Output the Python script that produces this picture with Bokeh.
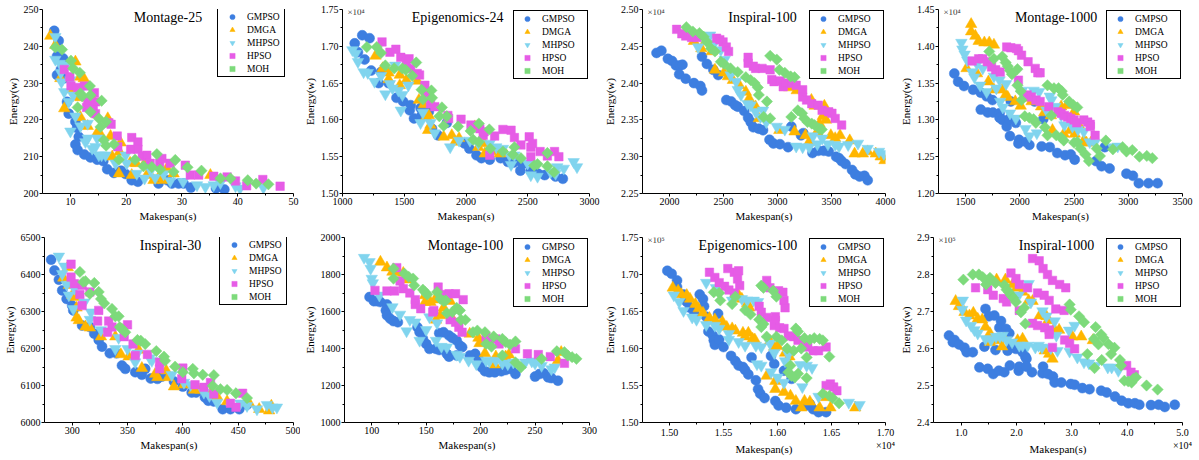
import math
from bokeh.plotting import figure
from bokeh.layouts import column, row
from bokeh.models import Range1d, FixedTicker, PrintfTickFormatter, Label
from bokeh.embed import file_html
from bokeh.resources import INLINE

FONT = "Liberation Serif"
SERIES = ["GMPSO", "DMGA", "MHPSO", "HPSO", "MOH"]
COLORS = ["#3D7EE0", "#FFB600", "#80D4EE", "#E65CE6", "#7DDA7B"]
MARKERS = ["circle", "triangle", "inverted_triangle", "square", "square"]
SIZES = [10, 11.5, 11.5, 8.5, 8]
ANGLES = [0, 0, 0, 0, math.pi / 4]

# ---------------- Montage-25 ----------------
M25_GMPSO = [(7.1,244.2),(7.9,241.5),(7.6,237.3),(7.6,232.2),(8.3,233.7),(8.7,236.7),(8.9,231.3),(9.4,224.9),(9.7,221.7),(10.9,219.5),(11.2,217.8),(11.5,215.4),(10.9,213.3),(11.3,211.8),(12.5,210.6),(13.6,209.8),(14.8,209.2),(15.9,208.8),(16.6,206.6),(17.8,205.6),(19.1,206.2),(19.9,205.3),(21.0,203.6),(22.1,203.2),(25.8,202.7),(27.4,203.6),(28.2,202.7),(29.4,202.7),(30.3,202.7),(31.6,201.6),(36.1,201.4),(37.6,201.1)]
M25_DMGA = [(6.4,242.8),(7.3,240.3),(8.2,231.3),(8.9,223.1),(10.1,228.3),(10.9,226.3),(10.9,235.8),(11.7,231.7),(12.4,231.3),(11.8,226.1),(11.8,220.7),(13.1,218.3),(14.3,224.9),(14.8,216.5),(15.4,216.0),(16.7,220.4),(17.2,215.6),(17.5,210.0),(18.8,211.3),(19.0,213.8),(18.7,205.4),(20.7,208.3),(21.8,208.2),(21.0,205.0),(23.3,208.2),(23.7,205.0),(24.9,203.6),(25.8,204.3),(26.7,203.6),(27.3,206.8),(28.5,205.4),(35.1,205.0)]
M25_MHPSO = [(7.3,242.6),(7.3,236.4),(8.1,235.3),(8.3,232.8),(8.4,230.3),(9.4,234.9),(8.9,227.6),(10.0,230.8),(10.5,226.7),(9.7,224.9),(10.0,216.9),(10.9,221.0),(11.8,228.0),(11.8,218.3),(12.7,214.0),(13.1,219.0),(13.1,215.0),(13.9,212.2),(14.5,212.7),(14.8,215.0),(15.1,210.4),(15.6,210.4),(16.3,210.4),(18.1,208.2),(19.9,210.4),(20.1,208.2),(21.9,205.4),(23.3,204.1),(24.4,206.2),(25.2,204.3),(26.7,205.3),(27.9,203.4),(30.2,203.2),(32.7,202.3),(34.2,201.8),(35.7,202.3),(36.9,202.9),(39.6,202.0),(40.4,201.4),(44.6,201.6)]
M25_HPSO = [(8.9,233.7),(9.9,231.7),(10.1,229.3),(11.3,228.8),(12.5,229.2),(13.1,225.4),(12.9,223.4),(14.1,223.1),(14.3,227.4),(14.5,224.9),(14.5,221.7),(16.9,219.2),(17.3,218.8),(18.4,215.6),(18.5,212.7),(21.0,215.2),(22.1,214.0),(20.8,212.0),(22.1,212.0),(22.9,210.1),(23.7,210.4),(24.3,208.2),(26.0,208.2),(26.4,209.5),(27.9,208.2),(30.6,207.7),(31.5,205.0),(33.0,205.0),(35.7,204.7),(38.1,204.5),(39.6,203.4),(41.6,202.1),(44.5,203.8),(47.6,202.0)]
M25_MOH = [(7.3,239.7),(8.5,239.1),(10.1,236.1),(10.5,234.0),(11.7,232.8),(11.3,223.4),(11.8,227.2),(12.1,226.4),(13.5,229.2),(13.6,226.7),(13.6,222.2),(15.1,220.4),(15.4,218.1),(15.6,225.2),(16.0,214.5),(16.4,219.5),(16.4,213.0),(17.8,213.4),(18.7,209.2),(21.6,209.2),(23.1,207.4),(24.6,207.2),(25.5,210.7),(26.1,206.5),(28.5,205.9),(28.8,209.1),(31.0,207.1),(33.5,206.2),(36.9,204.1),(38.7,204.1),(41.8,203.6),(43.3,202.7),(45.5,202.5)]
M25_XTICKS = [10, 20, 30, 40, 50]
M25_YTICKS = [200, 210, 220, 230, 240, 250]

# ---------------- Epigenomics-24 (energy x10^4) ----------------
E24_GMPSO = [(1099,1.704),(1125,1.692),(1160,1.715),(1179,1.682),(1219,1.711),(1232,1.667),(1293,1.650),(1312,1.665),(1373,1.650),(1437,1.630),(1491,1.625),(1544,1.613),(1552,1.620),(1579,1.602),(1632,1.616),(1640,1.606),(1699,1.611),(1725,1.588),(1773,1.579),(1845,1.596),(1987,1.568),(2027,1.561),(2085,1.552),(2125,1.548),(2192,1.546),(2280,1.548),(2339,1.543),(2387,1.542),(2440,1.531),(2459,1.540),(2525,1.531),(2584,1.527),(2637,1.525),(2725,1.523),(2784,1.520)]
E24_DMGA = [(1267,1.687),(1325,1.670),(1373,1.664),(1373,1.655),(1464,1.661),(1464,1.647),(1517,1.654),(1605,1.653),(1619,1.627),(1659,1.621),(1677,1.604),(1699,1.606),(1693,1.586),(1712,1.593),(1819,1.577),(1885,1.579),(1912,1.570),(1944,1.575),(2072,1.591),(2099,1.563),(2147,1.568),(2152,1.554),(2232,1.557),(2272,1.554),(2317,1.555)]
E24_MHPSO = [(1080,1.695),(1107,1.690),(1125,1.679),(1171,1.665),(1205,1.664),(1259,1.652),(1312,1.660),(1347,1.635),(1384,1.649),(1405,1.643),(1427,1.674),(1453,1.640),(1485,1.634),(1472,1.613),(1533,1.647),(1632,1.596),(1651,1.610),(1712,1.596),(1747,1.582),(1872,1.563),(1944,1.572),(2032,1.572),(2099,1.568),(2192,1.568),(2245,1.563),(2299,1.561),(2352,1.552),(2365,1.539),(2392,1.552),(2499,1.541),(2525,1.525),(2579,1.523),(2685,1.529),(2725,1.527),(2739,1.536),(2792,1.534),(2872,1.543),(2899,1.536)]
E24_HPSO = [(1320,1.706),(1384,1.692),(1432,1.696),(1472,1.685),(1517,1.679),(1539,1.683),(1552,1.670),(1605,1.663),(1624,1.661),(1667,1.647),(1677,1.637),(1712,1.622),(1747,1.618),(1853,1.606),(1859,1.602),(1960,1.601),(2040,1.593),(2112,1.588),(2139,1.579),(2147,1.584),(2192,1.552),(2232,1.578),(2299,1.587),(2365,1.586),(2392,1.576),(2445,1.566),(2512,1.577),(2525,1.563),(2539,1.568),(2525,1.550),(2600,1.557),(2659,1.551),(2717,1.557),(2752,1.550)]
E24_MOH = [(1197,1.699),(1277,1.699),(1312,1.691),(1347,1.674),(1419,1.670),(1485,1.670),(1512,1.668),(1565,1.660),(1597,1.678),(1640,1.641),(1651,1.628),(1720,1.640),(1725,1.630),(1805,1.617),(1784,1.605),(1845,1.605),(1819,1.592),(1936,1.591),(2037,1.585),(2059,1.573),(2104,1.595),(2104,1.570),(2189,1.587),(2197,1.561),(2299,1.557),(2392,1.563),(2379,1.553),(2445,1.548),(2552,1.538),(2579,1.540),(2659,1.555),(2659,1.537),(2712,1.529)]
E24_XTICKS = [1000, 1500, 2000, 2500, 3000]
E24_YTICKS = [1.50, 1.55, 1.60, 1.65, 1.70, 1.75]

# ---------------- Inspiral-100 (energy x10^4) ----------------
I100_GMPSO = [(1880,2.441),(1925,2.444),(1985,2.433),(2024,2.430),(2060,2.424),(2096,2.424),(2120,2.425),(2090,2.412),(2150,2.406),(2226,2.400),(2286,2.396),(2301,2.390),(2301,2.436),(2346,2.426),(2406,2.418),(2451,2.411),(2526,2.377),(2571,2.375),(2608,2.370),(2632,2.368),(2692,2.362),(2728,2.353),(2752,2.347),(2776,2.340),(2827,2.338),(2866,2.336),(2926,2.323),(2962,2.318),(3023,2.317),(3098,2.313),(3128,2.341),(3218,2.329),(3239,2.332),(3324,2.305),(3378,2.308),(3429,2.308),(3474,2.307),(3543,2.300),(3570,2.298),(3594,2.294),(3630,2.290),(3690,2.282),(3720,2.276),(3760,2.273),(3805,2.274),(3835,2.268)]
I100_DMGA = [(2226,2.457),(2295,2.447),(2391,2.443),(2421,2.418),(2505,2.414),(2541,2.409),(2587,2.404),(2647,2.397),(2707,2.388),(2737,2.379),(2797,2.368),(2827,2.352),(3017,2.336),(3107,2.394),(3158,2.334),(3178,2.390),(3259,2.329),(3293,2.320),(3314,2.377),(3344,2.369),(3368,2.334),(3389,2.345),(3419,2.355),(3434,2.369),(3449,2.350),(3494,2.329),(3534,2.325),(3579,2.329),(3669,2.322),(3714,2.304),(3790,2.304),(3835,2.307),(3910,2.304),(3955,2.300),(3991,2.295)]
I100_MHPSO = [(2265,2.449),(2376,2.465),(2415,2.454),(2475,2.445),(2511,2.432),(2565,2.411),(2617,2.402),(2632,2.391),(2662,2.384),(2722,2.372),(2752,2.370),(2797,2.361),(2842,2.354),(2866,2.363),(2896,2.347),(2993,2.341),(3068,2.337),(3173,2.314),(3233,2.313),(3293,2.313),(3329,2.328),(3369,2.317),(3414,2.325),(3467,2.317),(3534,2.316),(3570,2.314),(3654,2.316),(3745,2.318),(3835,2.311),(3940,2.307),(3985,2.304)]
I100_HPSO = [(2066,2.473),(2114,2.467),(2150,2.464),(2204,2.462),(2256,2.462),(2436,2.461),(2466,2.459),(2496,2.456),(2526,2.449),(2547,2.443),(2728,2.435),(2728,2.427),(2776,2.423),(2797,2.420),(2857,2.420),(2932,2.418),(2947,2.405),(2968,2.402),(3023,2.403),(3053,2.395),(3083,2.400),(3137,2.400),(3173,2.397),(3233,2.391),(3233,2.381),(3269,2.377),(3317,2.372),(3377,2.370),(3413,2.363),(3474,2.361),(3504,2.359),(3534,2.352),(3594,2.343)]
I100_MOH = [(2156,2.476),(2216,2.470),(2277,2.468),(2316,2.463),(2346,2.456),(2385,2.447),(2421,2.443),(2475,2.429),(2505,2.426),(2565,2.420),(2632,2.415),(2707,2.408),(2752,2.404),(2788,2.400),(2818,2.394),(2827,2.384),(2902,2.375),(2872,2.354),(2932,2.352),(2932,2.437),(2993,2.432),(3017,2.418),(3068,2.414),(3122,2.409),(3158,2.408),(3128,2.354),(3188,2.363),(3227,2.359),(3248,2.352),(3278,2.347),(3317,2.345),(3344,2.343),(3389,2.338),(3410,2.337)]
I100_XTICKS = [2000, 2500, 3000, 3500, 4000]
I100_YTICKS = [2.25, 2.30, 2.35, 2.40, 2.45, 2.50]

# ---------------- Montage-1000 (energy x10^4) ----------------
M1000_GMPSO = [(1396,1.363),(1431,1.352),(1485,1.346),(1569,1.341),(1640,1.337),(1694,1.332),(1748,1.327),(1640,1.314),(1704,1.310),(1752,1.310),(1813,1.309),(1813,1.303),(1839,1.300),(1879,1.291),(1899,1.301),(1917,1.325),(1963,1.296),(1909,1.278),(1993,1.273),(1987,1.268),(2058,1.270),(2088,1.266),(2136,1.325),(2216,1.301),(2201,1.264),(2276,1.263),(2345,1.255),(2417,1.252),(2470,1.253),(2506,1.246),(2703,1.244),(2754,1.237),(2828,1.234),(2784,1.263),(2983,1.227),(3043,1.224),(3097,1.214),(3186,1.214),(3270,1.214)]
M1000_DMGA = [(1551,1.430),(1551,1.420),(1590,1.414),(1620,1.407),(1673,1.405),(1718,1.405),(1761,1.402),(1509,1.370),(1605,1.363),(1710,1.352),(1761,1.341),(1838,1.341),(1869,1.334),(1889,1.331),(1958,1.325),(2008,1.319),(2048,1.330),(2108,1.325),(2196,1.318),(2225,1.310),(2286,1.306),(2301,1.286),(2381,1.318),(2405,1.281),(2434,1.320),(2464,1.286),(2500,1.311),(2506,1.281),(2545,1.293),(2590,1.272),(2614,1.269),(2655,1.269)]
M1000_MHPSO = [(1461,1.405),(1470,1.396),(1491,1.389),(1515,1.381),(1560,1.365),(1581,1.358),(1605,1.376),(1634,1.347),(1658,1.370),(1694,1.338),(1761,1.359),(1783,1.343),(1813,1.354),(1819,1.325),(1843,1.317),(1873,1.349),(1909,1.309),(1963,1.302),(2022,1.340),(2052,1.288),(2088,1.278),(2127,1.340),(2157,1.282),(2178,1.338),(2246,1.313),(2276,1.332),(2291,1.327),(2327,1.318),(2381,1.306),(2411,1.293),(2485,1.291),(2536,1.287),(2590,1.284),(2644,1.270),(2690,1.269),(2858,1.263),(2903,1.264)]
M1000_HPSO = [(1560,1.380),(1620,1.383),(1658,1.383),(1700,1.379),(1739,1.372),(1777,1.368),(1819,1.365),(1879,1.399),(1917,1.398),(1969,1.397),(1987,1.394),(2016,1.388),(1987,1.354),(2076,1.379),(2142,1.370),(2166,1.364),(2187,1.364),(2067,1.334),(2106,1.331),(2148,1.327),(2187,1.325),(2267,1.318),(2351,1.311),(2381,1.309),(2411,1.306),(2440,1.304),(2470,1.302),(2500,1.300),(2524,1.296),(2590,1.300),(2626,1.297),(2650,1.294),(2650,1.291),(2694,1.279)]
M1000_MOH = [(1718,1.393),(1761,1.383),(1838,1.386),(1869,1.378),(1889,1.373),(1909,1.367),(1927,1.362),(1978,1.369),(1978,1.347),(2008,1.339),(2016,1.327),(2046,1.305),(2088,1.303),(2127,1.301),(2148,1.296),(2231,1.290),(2255,1.279),(2291,1.306),(2255,1.347),(2315,1.343),(2357,1.343),(2387,1.339),(2396,1.334),(2336,1.279),(2381,1.276),(2405,1.272),(2455,1.325),(2494,1.320),(2530,1.317),(2500,1.269),(2530,1.270),(2560,1.261),(2605,1.253),(2637,1.244),(2709,1.261),(2739,1.251),(2793,1.272),(2858,1.260),(2948,1.263),(2983,1.257),(3037,1.259),(3103,1.250),(3171,1.251),(3222,1.248)]
M1000_XTICKS = [1500, 2000, 2500, 3000, 3500]
M1000_YTICKS = [1.20, 1.25, 1.30, 1.35, 1.40, 1.45]

# ---------------- Inspiral-30 ----------------
I30_GMPSO = [(281,6440),(284,6411),(288,6386),(291,6357),(295,6334),(300,6316),(301,6303),(309,6262),(316,6258),(320,6240),(324,6223),(327,6205),(334,6187),(340,6187),(345,6154),(348,6145),(357,6136),(363,6129),(366,6145),(371,6119),(377,6118),(381,6124),(392,6111),(400,6097),(408,6081),(412,6081),(420,6068),(423,6059),(428,6057),(436,6036),(443,6036),(451,6036),(458,6048)]
I30_DMGA = [(292,6391),(296,6419),(297,6371),(300,6344),(302,6339),(304,6310),(304,6283),(306,6276),(312,6259),(316,6256),(326,6232),(339,6232),(344,6184),(351,6178),(360,6196),(363,6147),(375,6131),(377,6122),(385,6140),(387,6122),(392,6097),(401,6102),(410,6088),(416,6088),(425,6080),(431,6070),(440,6057),(460,6052),(469,6036),(478,6032),(480,6045)]
I30_MHPSO = [(288,6449),(293,6422),(291,6402),(295,6373),(297,6344),(301,6307),(302,6362),(311,6325),(316,6278),(317,6298),(326,6250),(339,6199),(342,6229),(350,6199),(357,6163),(359,6187),(370,6174),(372,6167),(390,6129),(401,6108),(407,6102),(419,6081),(424,6072),(431,6054),(452,6052),(458,6045),(467,6036),(476,6048),(481,6041),(485,6041)]
I30_HPSO = [(299,6428),(299,6393),(302,6375),(307,6346),(309,6316),(309,6371),(316,6353),(324,6303),(323,6274),(333,6274),(336,6258),(332,6244),(350,6264),(347,6232),(355,6212),(357,6181),(368,6184),(379,6163),(379,6145),(400,6147),(399,6118),(411,6102),(419,6095),(425,6108),(428,6077),(443,6052),(448,6041),(454,6079)]
I30_MOH = [(307,6407),(310,6380),(312,6382),(316,6348),(320,6377),(324,6353),(326,6334),(329,6322),(336,6307),(339,6287),(342,6287),(343,6258),(345,6253),(348,6244),(359,6223),(362,6221),(366,6212),(376,6193),(383,6178),(384,6167),(393,6151),(400,6136),(409,6145),(410,6133),(418,6129),(428,6128),(427,6099),(434,6090),(440,6088),(448,6079),(458,6066)]
I30_XTICKS = [300, 350, 400, 450, 500]
I30_YTICKS = [6000, 6100, 6200, 6300, 6400, 6500]

# ---------------- Montage-100 ----------------
M100_GMPSO = [(98,1678),(102,1656),(105,1656),(108,1651),(114,1638),(113,1606),(114,1579),(117,1561),(120,1548),(124,1542),(142,1515),(144,1488),(147,1452),(150,1425),(153,1398),(159,1398),(162,1392),(162,1483),(166,1488),(171,1470),(174,1457),(178,1443),(181,1416),(183,1407),(169,1371),(171,1356),(178,1362),(190,1362),(195,1371),(198,1344),(201,1298),(204,1277),(208,1271),(213,1271),(219,1277),(223,1284),(228,1289),(232,1262),(250,1248),(254,1262),(258,1266),(262,1244),(265,1240),(271,1226)]
M100_DMGA = [(108,1868),(114,1837),(119,1814),(124,1814),(129,1808),(132,1772),(149,1687),(149,1651),(154,1651),(158,1664),(159,1555),(163,1579),(166,1620),(172,1656),(174,1561),(190,1479),(198,1457),(199,1428),(204,1374),(213,1313),(214,1356),(223,1356),(226,1367),(271,1335),(274,1380)]
M100_MHPSO = [(93,1891),(98,1868),(99,1832),(100,1778),(101,1754),(107,1687),(119,1624),(126,1584),(132,1494),(135,1555),(140,1542),(144,1443),(150,1501),(153,1570),(159,1443),(160,1537),(164,1410),(169,1407),(178,1367),(181,1356),(189,1335),(196,1316),(205,1335),(208,1331),(214,1335),(220,1320),(225,1316),(230,1325),(241,1325),(247,1331),(250,1320),(256,1307),(265,1289),(268,1298)]
M100_HPSO = [(103,1714),(114,1711),(121,1711),(123,1837),(126,1765),(129,1723),(135,1700),(140,1664),(140,1638),(145,1615),(156,1597),(157,1606),(161,1732),(165,1687),(168,1692),(171,1696),(172,1555),(177,1542),(177,1696),(180,1515),(183,1488),(184,1664),(205,1461),(208,1434),(214,1452),(217,1425),(232,1398),(243,1371),(253,1367),(264,1356),(277,1320)]
M100_MOH = [(120,1832),(120,1778),(130,1805),(134,1787),(138,1778),(139,1741),(147,1718),(149,1705),(151,1692),(160,1705),(163,1669),(166,1656),(168,1660),(169,1591),(174,1597),(178,1620),(180,1609),(181,1606),(182,1555),(186,1555),(193,1488),(197,1497),(204,1488),(205,1425),(210,1410),(212,1465),(220,1452),(223,1434),(227,1421),(232,1438),(232,1325),(237,1298),(220,1362),(256,1344),(270,1385),(277,1380),(280,1362),(284,1353),(288,1344)]
M100_XTICKS = [100, 150, 200, 250, 300]
M100_YTICKS = [1000, 1200, 1400, 1600, 1800, 2000]

# ---------------- Epigenomics-100 (makespan x10^4, energy x10^5) ----------------
E100_GMPSO = [(1.498,1.705),(1.502,1.701),(1.507,1.692),(1.507,1.683),(1.513,1.673),(1.516,1.663),(1.519,1.655),(1.523,1.647),(1.528,1.673),(1.531,1.667),(1.532,1.657),(1.534,1.643),(1.536,1.623),(1.540,1.618),(1.541,1.611),(1.542,1.605),(1.545,1.647),(1.546,1.612),(1.550,1.602),(1.557,1.590),(1.561,1.583),(1.564,1.577),(1.568,1.575),(1.570,1.571),(1.573,1.565),(1.576,1.588),(1.580,1.557),(1.582,1.545),(1.584,1.539),(1.588,1.533),(1.594,1.590),(1.597,1.579),(1.598,1.529),(1.601,1.523),(1.606,1.570),(1.608,1.520),(1.613,1.559),(1.617,1.518),(1.627,1.523),(1.630,1.525),(1.633,1.518),(1.638,1.514),(1.645,1.514)]
E100_DMGA = [(1.503,1.682),(1.508,1.678),(1.511,1.673),(1.516,1.672),(1.519,1.667),(1.524,1.660),(1.527,1.654),(1.531,1.648),(1.537,1.641),(1.542,1.639),(1.547,1.632),(1.549,1.636),(1.553,1.629),(1.558,1.627),(1.561,1.624),(1.568,1.621),(1.570,1.616),(1.573,1.621),(1.577,1.613),(1.579,1.612),(1.564,1.672),(1.567,1.667),(1.572,1.661),(1.574,1.655),(1.590,1.563),(1.593,1.610),(1.597,1.602),(1.598,1.556),(1.600,1.603),(1.598,1.545),(1.606,1.541),(1.607,1.594),(1.611,1.589),(1.612,1.536),(1.617,1.529),(1.622,1.520),(1.625,1.529),(1.630,1.528),(1.639,1.520),(1.645,1.534),(1.649,1.520),(1.672,1.520)]
E100_MHPSO = [(1.504,1.672),(1.509,1.663),(1.513,1.651),(1.521,1.642),(1.525,1.639),(1.534,1.632),(1.534,1.689),(1.542,1.631),(1.543,1.682),(1.546,1.627),(1.555,1.612),(1.555,1.620),(1.564,1.609),(1.558,1.665),(1.567,1.667),(1.572,1.665),(1.578,1.665),(1.582,1.663),(1.570,1.604),(1.580,1.604),(1.581,1.579),(1.585,1.577),(1.585,1.602),(1.593,1.607),(1.597,1.594),(1.594,1.568),(1.600,1.561),(1.606,1.554),(1.607,1.583),(1.610,1.592),(1.616,1.562),(1.621,1.578),(1.623,1.548),(1.627,1.577),(1.632,1.574),(1.638,1.535),(1.666,1.527),(1.676,1.524)]
E100_HPSO = [(1.537,1.703),(1.542,1.696),(1.546,1.689),(1.551,1.684),(1.554,1.708),(1.555,1.679),(1.560,1.675),(1.560,1.703),(1.564,1.705),(1.563,1.694),(1.565,1.685),(1.583,1.657),(1.585,1.649),(1.590,1.642),(1.590,1.692),(1.593,1.682),(1.598,1.643),(1.598,1.638),(1.601,1.678),(1.605,1.676),(1.606,1.665),(1.607,1.655),(1.597,1.631),(1.602,1.628),(1.606,1.627),(1.610,1.617),(1.615,1.616),(1.619,1.611),(1.624,1.605),(1.628,1.602),(1.633,1.597),(1.638,1.597),(1.645,1.602),(1.645,1.550),(1.649,1.552),(1.652,1.548),(1.655,1.543)]
E100_MOH = [(1.541,1.676),(1.546,1.675),(1.547,1.665),(1.558,1.660),(1.561,1.670),(1.570,1.652),(1.575,1.646),(1.583,1.639),(1.585,1.685),(1.587,1.682),(1.585,1.629),(1.587,1.633),(1.590,1.616),(1.596,1.678),(1.599,1.670),(1.599,1.616),(1.604,1.611),(1.609,1.600),(1.612,1.577),(1.610,1.568),(1.616,1.561),(1.617,1.627),(1.619,1.623),(1.615,1.597),(1.622,1.600),(1.627,1.560),(1.627,1.588),(1.625,1.614),(1.630,1.612),(1.634,1.614),(1.639,1.613),(1.642,1.611),(1.648,1.589),(1.642,1.539),(1.648,1.536),(1.651,1.533),(1.657,1.526),(1.619,1.566),(1.613,1.563)]
E100_XTICKS = [1.50, 1.55, 1.60, 1.65, 1.70]
E100_YTICKS = [1.50, 1.55, 1.60, 1.65, 1.70, 1.75]

# ---------------- Inspiral-1000 (makespan x10^4, energy x10^5) ----------------
I1000_GMPSO = [(0.78,2.635),(0.85,2.617),(0.88,2.623),(0.96,2.611),(1.06,2.602),(1.10,2.590),(1.21,2.590),(1.33,2.549),(1.44,2.707),(1.42,2.605),(1.48,2.545),(1.50,2.687),(1.58,2.531),(1.60,2.689),(1.62,2.596),(1.68,2.540),(1.69,2.656),(1.72,2.674),(1.78,2.536),(1.81,2.653),(1.84,2.594),(1.87,2.641),(1.88,2.554),(1.92,2.608),(1.99,2.599),(2.04,2.540),(2.05,2.551),(2.11,2.590),(2.16,2.578),(2.18,2.572),(2.18,2.551),(2.28,2.536),(2.47,2.533),(2.48,2.551),(2.57,2.531),(2.66,2.524),(2.69,2.508),(2.81,2.508),(2.98,2.504),(3.05,2.502),(3.19,2.493),(3.32,2.490),(3.53,2.486),(3.63,2.481),(3.78,2.470),(3.90,2.459),(4.02,2.452),(4.14,2.452),(4.22,2.448),(4.43,2.447),(4.57,2.448),(4.68,2.442),(4.86,2.448)]
I1000_DMGA = [(0.90,2.728),(0.96,2.714),(1.06,2.698),(1.15,2.689),(1.22,2.696),(1.30,2.680),(1.38,2.678),(1.44,2.658),(1.52,2.641),(1.52,2.617),(1.64,2.786),(1.66,2.622),(1.74,2.605),(1.78,2.626),(1.80,2.786),(1.93,2.773),(1.99,2.782),(2.00,2.764),(2.02,2.622),(2.11,2.626),(2.11,2.753),(2.22,2.730),(2.29,2.728),(2.42,2.689),(2.54,2.687),(2.57,2.676),(2.51,2.594),(2.59,2.585),(2.65,2.572),(2.68,2.653),(2.77,2.650),(3.01,2.632),(3.17,2.632),(3.38,2.622)]
I1000_MHPSO = [(1.03,2.730),(1.02,2.705),(1.09,2.676),(1.18,2.662),(1.24,2.650),(1.30,2.641),(1.44,2.626),(1.54,2.623),(1.63,2.632),(1.70,2.632),(1.75,2.635),(1.82,2.623),(1.92,2.617),(2.04,2.744),(2.05,2.608),(2.11,2.608),(2.20,2.608),(2.22,2.775),(2.26,2.725),(2.34,2.603),(2.40,2.608),(2.46,2.603),(2.47,2.701),(2.54,2.687),(2.62,2.601),(2.69,2.674),(2.72,2.635),(2.74,2.594),(2.95,2.649),(2.96,2.592),(3.05,2.662),(3.10,2.576),(3.22,2.563),(3.31,2.560),(3.43,2.554),(3.65,2.549),(3.72,2.549),(3.84,2.540)]
I1000_HPSO = [(1.26,2.764),(1.48,2.759),(1.58,2.744),(1.76,2.735),(1.82,2.726),(1.90,2.804),(1.99,2.789),(2.05,2.773),(2.05,2.703),(2.20,2.764),(2.29,2.843),(2.41,2.837),(2.48,2.816),(2.56,2.800),(2.65,2.784),(2.78,2.773),(2.89,2.764),(2.29,2.668),(2.38,2.662),(2.38,2.750),(2.50,2.744),(2.59,2.730),(2.51,2.656),(2.59,2.650),(2.59,2.638),(2.71,2.707),(2.86,2.703),(2.65,2.603),(2.87,2.623),(2.96,2.614),(3.05,2.599),(3.99,2.554),(4.07,2.536),(4.13,2.529)]
I1000_MOH = [(1.04,2.786),(1.21,2.800),(1.32,2.800),(1.39,2.793),(1.45,2.773),(1.52,2.791),(1.62,2.777),(1.78,2.771),(1.82,2.759),(1.86,2.753),(1.90,2.744),(1.94,2.737),(1.99,2.726),(2.08,2.698),(2.14,2.710),(2.16,2.667),(2.96,2.719),(2.98,2.705),(3.13,2.687),(3.22,2.671),(3.28,2.585),(3.40,2.626),(3.41,2.547),(3.43,2.658),(3.48,2.611),(3.53,2.638),(3.54,2.569),(3.57,2.629),(3.66,2.612),(3.71,2.585),(3.77,2.602),(3.87,2.569),(3.89,2.554),(3.95,2.513),(4.02,2.511),(4.08,2.508),(4.11,2.518),(4.16,2.522),(4.35,2.500),(4.55,2.489)]
I1000_XTICKS = [1.0, 2.0, 3.0, 4.0, 5.0]
I1000_YTICKS = [2.4, 2.5, 2.6, 2.7, 2.8, 2.9]

PANELS = [
    dict(title="Montage-25", data=[M25_GMPSO, M25_DMGA, M25_MHPSO, M25_HPSO, M25_MOH],
         xr=(5, 50), yr=(200, 250), xt=M25_XTICKS, yt=M25_YTICKS, xf="%d", yf="%d",
         xm=None, ym=None, tx=0.50, narrow=True),
    dict(title="Epigenomics-24", data=[E24_GMPSO, E24_DMGA, E24_MHPSO, E24_HPSO, E24_MOH],
         xr=(1000, 3000), yr=(1.50, 1.75), xt=E24_XTICKS, yt=E24_YTICKS, xf="%d", yf="%.2f",
         xm=None, ym="\u00d710\u2074", tx=0.466, narrow=False),
    dict(title="Inspiral-100", data=[I100_GMPSO, I100_DMGA, I100_MHPSO, I100_HPSO, I100_MOH],
         xr=(1750, 4000), yr=(2.25, 2.50), xt=I100_XTICKS, yt=I100_YTICKS, xf="%d", yf="%.2f",
         xm=None, ym="\u00d710\u2074", tx=0.494, narrow=False),
    dict(title="Montage-1000", data=[M1000_GMPSO, M1000_DMGA, M1000_MHPSO, M1000_HPSO, M1000_MOH],
         xr=(1250, 3500), yr=(1.20, 1.45), xt=M1000_XTICKS, yt=M1000_YTICKS, xf="%d", yf="%.2f",
         xm=None, ym="\u00d710\u2074", tx=0.482, narrow=False),
    dict(title="Inspiral-30", data=[I30_GMPSO, I30_DMGA, I30_MHPSO, I30_HPSO, I30_MOH],
         xr=(275, 500), yr=(6000, 6500), xt=I30_XTICKS, yt=I30_YTICKS, xf="%d", yf="%d",
         xm=None, ym=None, tx=0.506, narrow=True),
    dict(title="Montage-100", data=[M100_GMPSO, M100_DMGA, M100_MHPSO, M100_HPSO, M100_MOH],
         xr=(75, 300), yr=(1000, 2000), xt=M100_XTICKS, yt=M100_YTICKS, xf="%d", yf="%d",
         xm=None, ym=None, tx=0.494, narrow=False),
    dict(title="Epigenomics-100", data=[E100_GMPSO, E100_DMGA, E100_MHPSO, E100_HPSO, E100_MOH],
         xr=(1.475, 1.70), yr=(1.50, 1.75), xt=E100_XTICKS, yt=E100_YTICKS, xf="%.2f", yf="%.2f",
         xm="\u00d710\u2074", ym="\u00d710\u2075", tx=0.434, narrow=False),
    dict(title="Inspiral-1000", data=[I1000_GMPSO, I1000_DMGA, I1000_MHPSO, I1000_HPSO, I1000_MOH],
         xr=(0.5, 5.0), yr=(2.4, 2.9), xt=I1000_XTICKS, yt=I1000_YTICKS, xf="%.1f", yf="%.1f",
         xm="\u00d710\u2074", ym="\u00d710\u2075", tx=0.494, narrow=False),
]

# page layout (Bokeh's page template has no body margin)
W = [300, 300, 296, 302]
L = [42, 38, 36, 35]
R = [7, 11, 11, 16]
H = [230, 228]
T = [9, 7]
B = [37, 36]


def minor_of(ticks, lo, hi):
    step = ticks[1] - ticks[0]
    cands = [ticks[0] - step / 2] + [t + step / 2 for t in ticks]
    return [m for m in cands if lo < m < hi]


def style_axis(ax, ticks, lo, hi, fmt, label):
    ax.ticker = FixedTicker(ticks=ticks, minor_ticks=minor_of(ticks, lo, hi))
    ax.formatter = PrintfTickFormatter(format=fmt)
    ax.axis_label = label
    ax.axis_line_color = "black"
    ax.axis_line_width = 1
    ax.major_tick_line_color = "black"
    ax.minor_tick_line_color = "black"
    ax.major_tick_in = 0
    ax.major_tick_out = 3
    ax.minor_tick_in = 0
    ax.minor_tick_out = 2
    ax.major_label_text_font = FONT
    ax.major_label_text_font_size = "10px"
    ax.major_label_text_color = "black"
    ax.major_label_standoff = 1
    ax.axis_label_text_font = FONT
    ax.axis_label_text_font_size = "11px"
    ax.axis_label_text_font_style = "normal"
    ax.axis_label_text_color = "black"
    ax.axis_label_standoff = 2


figs = []
for i, cfg in enumerate(PANELS):
    r, c = divmod(i, 4)
    x0, x1 = cfg["xr"]
    y0, y1 = cfg["yr"]
    p = figure(width=W[c], height=H[r], output_backend="svg", toolbar_location=None,
               x_range=Range1d(x0, x1), y_range=Range1d(y0, y1),
               min_border_left=L[c], min_border_right=R[c],
               min_border_top=T[r], min_border_bottom=B[r])
    p.outline_line_color = None
    p.xgrid.visible = False
    p.ygrid.visible = False
    p.background_fill_color = "white"
    p.border_fill_color = "white"
    style_axis(p.xaxis[0], cfg["xt"], x0, x1, cfg["xf"], "Makespan(s)")
    style_axis(p.yaxis[0], cfg["yt"], y0, y1, cfg["yf"], "Energy(w)")
    if cfg["xm"]:
        last = cfg["xt"][-1]
        p.xaxis[0].major_label_overrides = {last: (cfg["xf"] % last) + "\n" + cfg["xm"]}
        p.xaxis[0].axis_label_standoff = -11

    for k, pts in enumerate(cfg["data"]):
        xs = [pt[0] for pt in pts]
        ys = [pt[1] for pt in pts]
        p.scatter(xs, ys, marker=MARKERS[k], size=SIZES[k], angle=ANGLES[k],
                  fill_color=COLORS[k], line_color=COLORS[k], line_width=0.5,
                  legend_label=SERIES[k])

    leg = p.legend[0]
    leg.border_line_color = "black"
    leg.border_line_width = 1
    leg.border_line_alpha = 1
    leg.background_fill_color = "white"
    leg.background_fill_alpha = 1
    leg.label_text_font = FONT
    leg.label_text_font_size = "9.5px"
    leg.label_text_color = "black"
    leg.label_height = 13
    leg.glyph_height = 13
    leg.spacing = 0
    leg.padding = 1
    fw = W[c] - L[c] - R[c]
    fh = H[r] - T[r] - B[r]
    if cfg["narrow"]:
        leg.glyph_width = 26
        leg.label_standoff = 2
        leg.label_width = 36
        leg.location = (fw - 10 - 66, fh - 68)
    else:
        leg.glyph_width = 24
        leg.label_standoff = 3
        leg.label_width = 44
        leg.location = "top_right"
        leg.margin = 1

    p.add_layout(Label(x=x0 + cfg["tx"] * (x1 - x0), y=y1, y_offset=-8, text=cfg["title"],
                       text_align="center", text_baseline="middle", text_font=FONT,
                       text_font_size="14px", text_color="black"))
    if cfg["ym"]:
        p.add_layout(Label(x=x0, y=y1, x_offset=5, y_offset=-2, text=cfg["ym"],
                           text_align="left", text_baseline="middle", text_font=FONT,
                           text_font_size="9px", text_color="#333333"))
    figs.append(p)

layout = column(row(*figs[:4]), row(*figs[4:]))
open("out.html", "w").write(file_html(layout, INLINE))
